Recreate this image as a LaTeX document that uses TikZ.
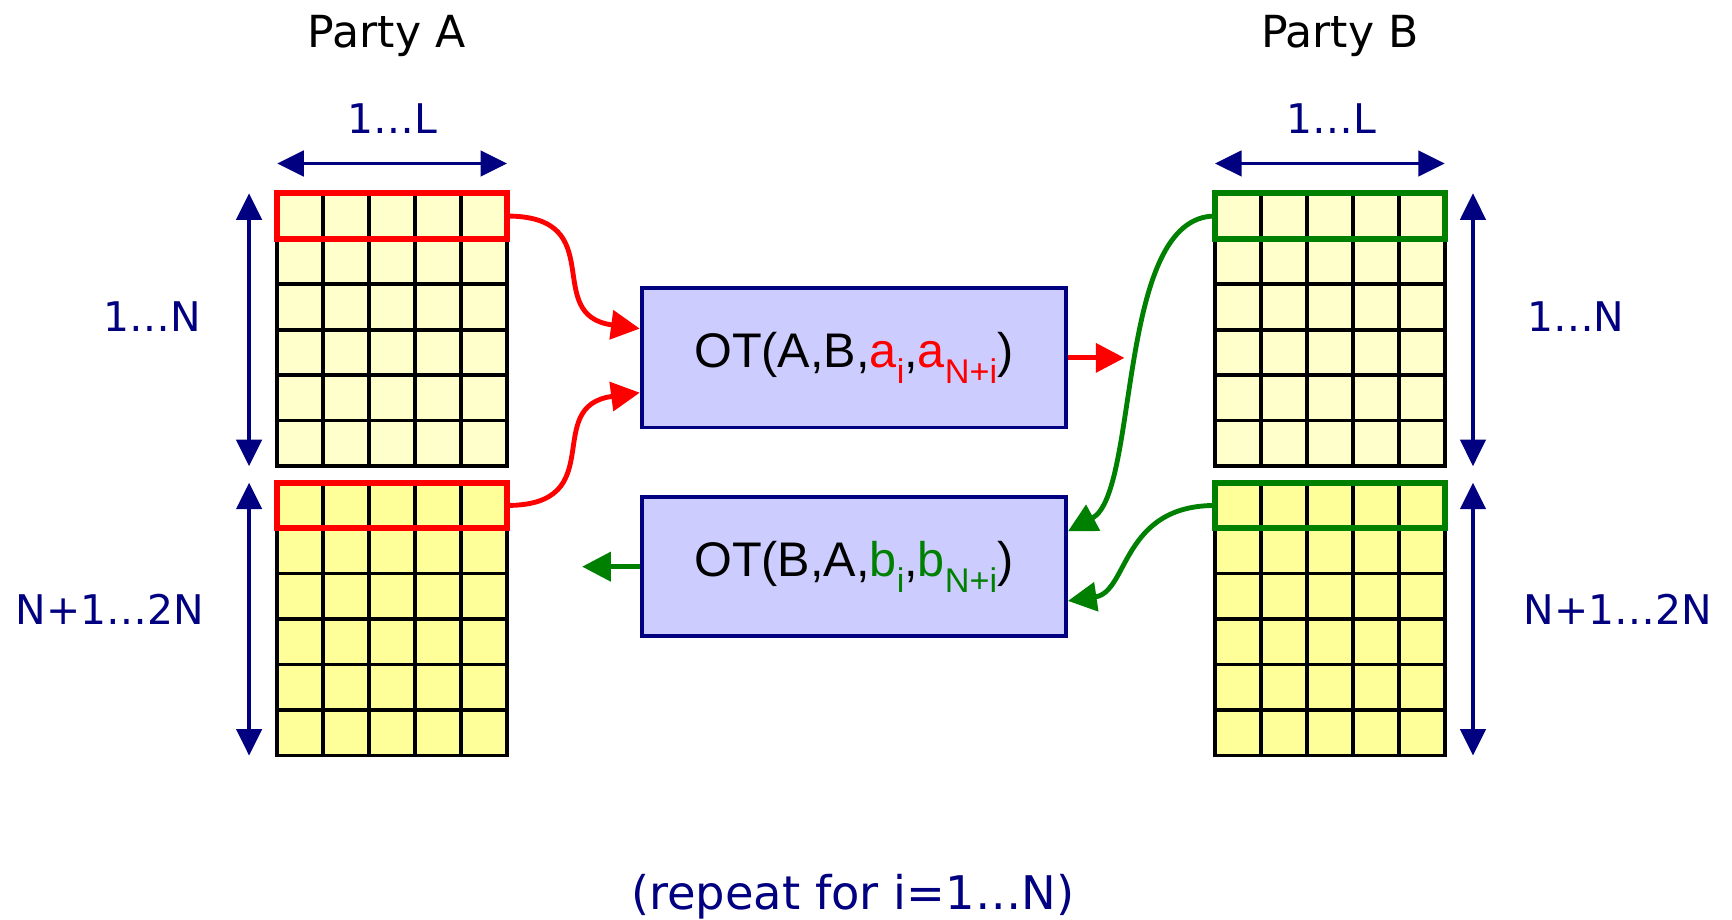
\documentclass[tikz,border=0pt]{standalone}
\usepackage{fontspec}
\setmainfont{DejaVu Sans}
\newfontfamily\otfont{Liberation Sans}
\usetikzlibrary{arrows.meta,calc}

\definecolor{navy}{RGB}{0,0,128}
\definecolor{otred}{RGB}{255,0,0}
\definecolor{otgreen}{RGB}{0,128,0}
\definecolor{paleyel}{RGB}{255,255,204}
\definecolor{yel}{RGB}{255,255,153}
\definecolor{lav}{RGB}{204,204,255}

% lowered, smaller index for the OT arguments
\newcommand\otsub[1]{\raisebox{-7pt}{\fontsize{15.5pt}{17pt}\selectfont #1}}

\begin{document}
\begin{tikzpicture}[x=0.5pt,y=-0.5pt,
  halfblock/.style={draw=black, fill=#1, line width=1.6pt, inner sep=0pt, outer sep=0pt,
                    minimum width=104pt, minimum height=123.5pt},
  gridline/.style={black, line width=1.6pt},
  hlrow/.style={draw=#1, line width=2.6pt, inner sep=0pt, outer sep=0pt,
                minimum width=104pt, minimum height=20.58pt, anchor=north},
  dimarrow/.style={navy, line width=1.5pt,
                   {Triangle[length=12pt,width=11.5pt]}-{Triangle[length=12pt,width=11.5pt]}},
  dimlabel/.style={text=navy, font=\fontsize{18.5pt}{20pt}\selectfont, inner sep=0pt, anchor=base},
  partylabel/.style={font=\fontsize{20pt}{24pt}\selectfont, inner sep=0pt, anchor=base},
  otbox/.style={draw=navy, fill=lav, line width=1.8pt, minimum width=192pt, minimum height=63pt,
                inner sep=0pt, font=\otfont\fontsize{22pt}{26pt}\selectfont},
  flow/.style={line width=2.2pt, -{Triangle[length=13pt,width=13pt]}},
]
\useasboundingbox (0,0) rectangle (1568,832);

% party titles
\node[partylabel] (pa) at (350,43) {Party A};
\node[partylabel] (pb) at (1213,43) {Party B};

% the four 6x5 blocks
\node[halfblock=paleyel] (A1) at (355,298.5) {};
\node[halfblock=yel]     (A2) at (355,560.5) {};
\node[halfblock=paleyel] (B1) at (1204,298.5) {};
\node[halfblock=yel]     (B2) at (1204,560.5) {};
\foreach \g in {A1,A2,B1,B2} {
  \foreach \i in {1,...,4}
    \draw[gridline] ($(\g.north west)!\i/5!(\g.north east)$) -- ($(\g.south west)!\i/5!(\g.south east)$);
  \foreach \j in {1,...,5}
    \draw[gridline] ($(\g.north west)!\j/6!(\g.south west)$) -- ($(\g.north east)!\j/6!(\g.south east)$);
}

% selected rows
\node[hlrow=otred]   (ra) at (A1.north) {};
\node[hlrow=otred]   (rb) at (A2.north) {};
\node[hlrow=otgreen] (ga) at (B1.north) {};
\node[hlrow=otgreen] (gb) at (B2.north) {};

% dimension arrows and labels
\draw[dimarrow] ([yshift=13.5pt]A1.north west) -- ([yshift=13.5pt]A1.north east);
\draw[dimarrow] ([yshift=13.5pt]B1.north west) -- ([yshift=13.5pt]B1.north east);
\node[dimlabel] (la) at (355,121) {1…L};
\node[dimlabel] (lb) at (1205,121) {1…L};

\draw[dimarrow] ([xshift=-12.75pt]A1.north west) -- ([xshift=-12.75pt]A1.south west);
\draw[dimarrow] ([xshift=-12.75pt]A2.north west) -- ([xshift=-12.75pt]A2.south west);
\draw[dimarrow] ([xshift=12.75pt]B1.north east) -- ([xshift=12.75pt]B1.south east);
\draw[dimarrow] ([xshift=12.75pt]B2.north east) -- ([xshift=12.75pt]B2.south east);
\node[dimlabel, anchor=base east] (na1) at (182,300) {1…N};
\node[dimlabel, anchor=base east] (na2) at (185,565) {N+1…2N};
\node[dimlabel, anchor=base west] (nb1) at (1382,300) {1…N};
\node[dimlabel, anchor=base west] (nb2) at (1379,565) {N+1…2N};

% oblivious transfer boxes
\node[otbox] (ot1) at (773,324) {OT(A,B,\textcolor{otred}{a\otsub{i}},\textcolor{otred}{a\otsub{N+i}})};
\node[otbox] (ot2) at (773,513) {OT(B,A,\textcolor{otgreen}{b\otsub{i}},\textcolor{otgreen}{b\otsub{N+i}})};

% inputs and outputs
\coordinate (redtip) at (1018,324);
\coordinate (greentip) at (527,513);
\draw[flow, otred] (ra.east) .. controls +(95,0) and +(-90,-12) .. ([yshift=13.25pt]ot1.west);
\draw[flow, otred] (rb.east) .. controls +(95,0) and +(-90,12) .. ([yshift=-15.75pt]ot1.west);
\draw[flow, otred] (ot1.east) -- (redtip);
\draw[flow, otgreen] (ga.west) .. controls +(-90,0) and +(65,-35) .. ([yshift=16pt]ot2.east);
\draw[flow, otgreen] (gb.west) .. controls +(-85,0) and +(55,-8) .. ([yshift=-15.5pt]ot2.east);
\draw[flow, otgreen] (ot2.west) -- (greentip);

% footer
\node[partylabel, text=navy, font=\fontsize{21pt}{24pt}\selectfont] (rep) at (772,823) {(repeat for i=1…N)};
\end{tikzpicture}
\end{document}
